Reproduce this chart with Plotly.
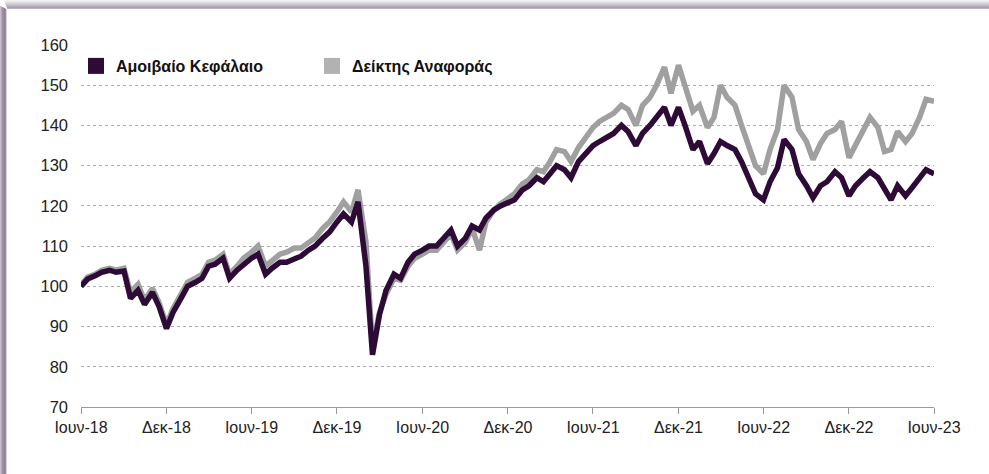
import plotly.graph_objects as go
import pandas as pd

# ---- data (semi-monthly readings) ----
series_names = ["Αμοιβαίο Κεφάλαιο", "Δείκτης Αναφοράς"]
dates = pd.date_range("2018-06-01", "2023-06-01", freq="SMS")

fund = [
    100, 101.8, 102.6, 103.5, 104, 103.5, 103.8, 97, 99, 95.5,
    98.5, 95, 89.5, 93.5, 97, 100, 101, 102, 105, 105.5,
    107, 102, 104, 105.5, 107, 108, 103, 104.5, 106, 106,
    107, 107.5, 109, 110, 112, 113.5, 116, 118, 116, 121,
    105, 83, 93, 99, 103, 102, 106, 108, 109, 110,
    110, 112, 114, 110, 112, 115, 114, 117, 119, 120,
    121, 121.5, 124, 125, 127, 126, 128, 130, 129, 127,
    131, 133, 135, 136, 137, 138, 140, 138.5, 135, 138,
    140, 142, 144.5, 140, 144.5, 140, 134, 136, 130.5, 133,
    136, 135, 134, 131, 127, 123, 121.5, 126, 129.5, 136.5,
    134, 128, 125, 122, 125, 126, 128.5, 127, 122.5, 125,
    127, 128.5, 127, 124, 121.5, 125, 122.5, 124.5, 127, 129,
    128,
]

bench = [
    100.3, 102.3, 103, 104, 104.5, 104, 104.5, 98.5, 100.5, 96.5,
    99.5, 96, 90.5, 94.5, 98, 101, 102, 103, 106, 106.5,
    108, 103, 105, 107, 108.5, 110, 105, 106.5, 108, 108.5,
    109.5, 109.5, 111, 112, 114.5, 116, 118.5, 121, 118.5, 124,
    111, 85, 93.5, 98, 102, 101.5, 105, 107, 108, 109,
    109, 111, 113, 109, 111, 114.5, 109, 116, 119, 120.5,
    122, 123, 125.5, 126.5, 129, 128.5, 131, 134, 133.5, 131,
    134.5, 137, 139.5, 141, 142, 143, 145, 144, 140, 145,
    147, 150, 154.5, 148, 155, 149.5, 143.5, 145, 139.5, 142,
    150, 147, 145, 140, 135, 130, 128, 134, 139, 150,
    147, 139, 136, 131.5, 135.5, 138, 139, 141, 132, 135,
    139, 142, 139.5, 133.5, 134, 138.5, 136, 138, 142, 146.5,
    146,
]

tick_dates = pd.date_range("2018-06-01", "2023-06-01", freq="6MS")
tick_labels = ["Ιουν-18", "Δεκ-18", "Ιουν-19", "Δεκ-19", "Ιουν-20", "Δεκ-20",
               "Ιουν-21", "Δεκ-21", "Ιουν-22", "Δεκ-22", "Ιουν-23"]
y_ticks = [70, 80, 90, 100, 110, 120, 130, 140, 150, 160]

# ---- style ----
FUND_C = "#2e0a37"
BENCH_C = "#a0a0a0"
BENCH_LEG = "#b2b2b2"
W, H = 989, 474
ML, MR, MT, MB = 81, 55, 45, 67
PW, PH = W - ML - MR, H - MT - MB

def px_x(p):
    return (p - ML) / PW

def px_y(p):
    return (H - MB - p) / PH

fig = go.Figure()
fig.add_trace(go.Scatter(x=dates, y=bench, mode="lines", showlegend=False,
                         line=dict(color=BENCH_C, width=5.5), name=series_names[1]))
fig.add_trace(go.Scatter(x=dates, y=fund, mode="lines", showlegend=False,
                         line=dict(color=FUND_C, width=5.5), name=series_names[0]))
# legend entries with square swatches
fig.add_trace(go.Scatter(x=[None], y=[None], mode="markers", name=series_names[0],
                         marker=dict(symbol="square", size=16, color=FUND_C)))
fig.add_trace(go.Scatter(x=[None], y=[None], mode="markers", name=series_names[1],
                         marker=dict(symbol="square", size=16, color=BENCH_LEG)))

# frame: left strip and top shadow
shapes = []
left_cols = ["#c6bccc", "#b3a6b9", "#a393a9", "#98879e", "#917e97", "#9d8ca3", "#d9d1dc"]
for i, c in enumerate(left_cols):
    shapes.append(dict(type="rect", xref="paper", yref="paper",
                       x0=px_x(i), x1=px_x(i + 1), y0=px_y(H), y1=px_y(6 + i * 0.5),
                       fillcolor=c, line_width=0, layer="below"))
top_cols = ["#f2f2f2", "#e9e8ea", "#dfdde1", "#d5d1d8", "#cbc5cf", "#c1b9c6",
            "#b6adbc", "#ab9fb1", "#bbb1c1"]
for j, c in enumerate(top_cols):
    shapes.append(dict(type="rect", xref="paper", yref="paper",
                       x0=px_x(4 + j * 0.4), x1=px_x(W), y0=px_y(j + 1), y1=px_y(j),
                       fillcolor=c, line_width=0, layer="below"))

font_fam = "Liberation Sans, Arial, Helvetica, sans-serif"
fig.update_layout(
    width=W, height=H,
    margin=dict(l=ML, r=MR, t=MT, b=MB, autoexpand=False),
    paper_bgcolor="white", plot_bgcolor="white",
    font=dict(family=font_fam, size=15, color="#222222"),
    shapes=shapes,
    showlegend=True,
    legend=dict(orientation="h", x=px_x(76), y=px_y(49), xanchor="left", yanchor="top",
                entrywidth=191, entrywidthmode="pixels",
                font=dict(family=font_fam, size=16, color="#111111", weight="bold"),
                bgcolor="rgba(0,0,0,0)", itemsizing="trace"),
    xaxis=dict(type="date", range=[dates[0], tick_dates[-1]],
               tickvals=list(tick_dates), ticktext=tick_labels,
               showgrid=False, zeroline=False,
               showline=True, linecolor="#9a9a9a", linewidth=1,
               ticks="outside", ticklen=6, tickcolor="#9a9a9a", tickwidth=1,
               tickfont=dict(size=16, color="#222222")),
    yaxis=dict(range=[70, 160], tickvals=y_ticks,
               showgrid=True, gridcolor="#ababab", griddash="dot", gridwidth=1,
               zeroline=False, showline=False, ticks="",
               ticklabelstandoff=12,
               tickfont=dict(size=16.5, color="#222222")),
)

fig.write_html("out.html", config={"displayModeBar": False},
               post_script="document.body.style.margin='0';")
